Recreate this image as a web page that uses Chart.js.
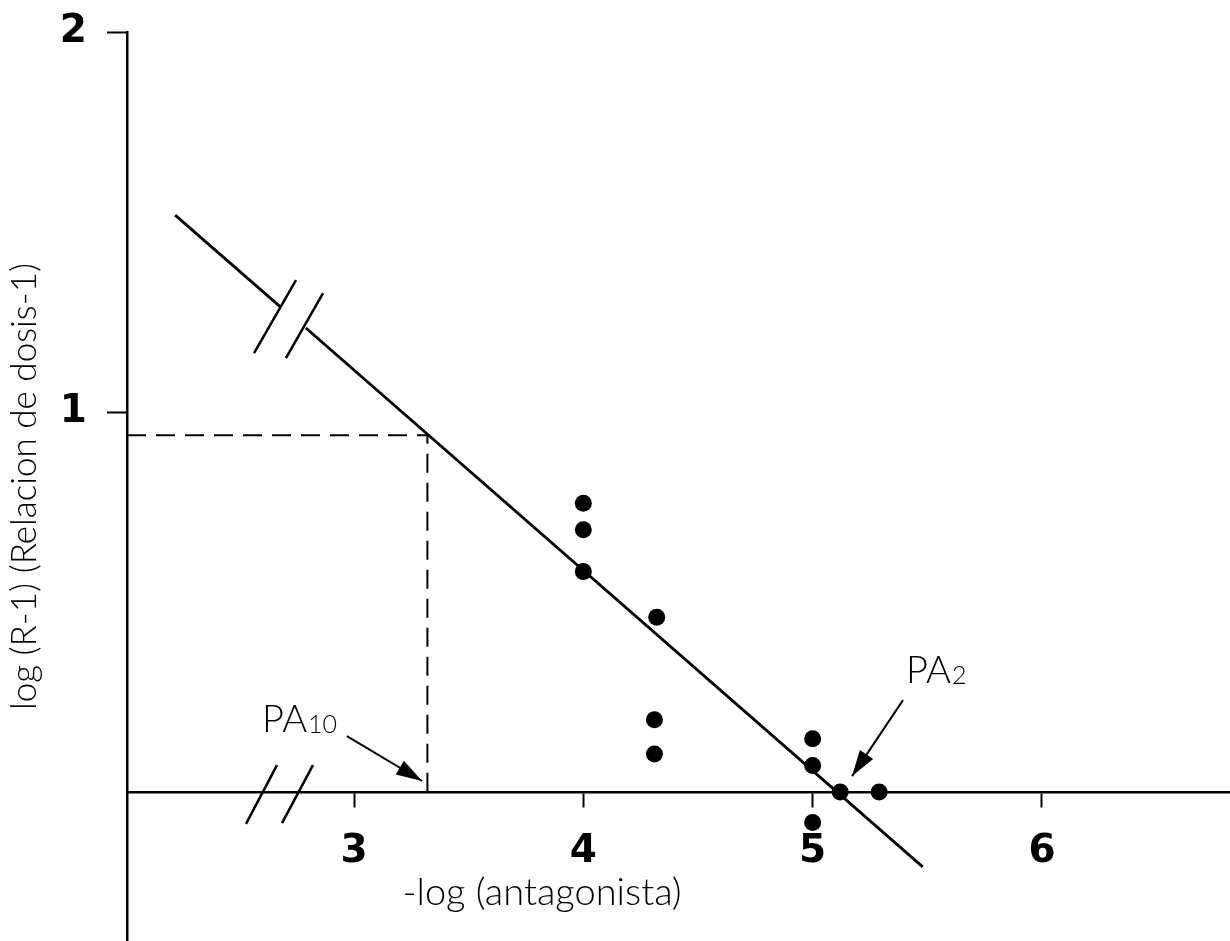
<!DOCTYPE html>
<html>
<head>
<meta charset="utf-8">
<script src="https://cdn.jsdelivr.net/npm/chart.js@4"></script>
<style>
  body { margin: 0; background: #fff; }
  canvas { display: block; }
</style>
</head>
<body>
<canvas id="schild" width="1230" height="941"></canvas>
<script>
// observed points: -log(antagonista) vs log(R-1)
const doseX = [4, 4, 4, 4.32, 4.31, 4.31, 5, 5, 5.12, 5.29, 5];
const responseY = [0.76, 0.69, 0.58, 0.46, 0.19, 0.10, 0.14, 0.07, 0.0, 0.0, -0.08];

// fitted line, broken near the top
const fitX = [2.22, 2.68, null, 2.79, 5.48];
const fitY = [1.518, 1.276, null, 1.221, -0.197];

// break marks (//) on the line and on the x axis
const lineBreakX = [2.564, 2.747, null, 2.703, 2.865];
const lineBreakY = [1.155, 1.347, null, 1.142, 1.313];
const axisBreakX = [2.529, 2.664, null, 2.686, 2.821];
const axisBreakY = [-0.084, 0.071, null, -0.082, 0.071];

// pA10 guide (dashed)
const pa10GuideX = [2.01, 3.32, 3.32];
const pa10GuideY = [0.939, 0.939, 0];

// annotation arrows: [start, tip]
const arrowPA10X = [2.969, 3.297];
const arrowPA10Y = [0.147, 0.029];
const arrowPA2X = [5.394, 5.172];
const arrowPA2Y = [0.242, 0.042];

const xTicks = [3, 4, 5, 6];
const yTicks = [1, 2];

const xTitle = '-log (antagonista)';
const yTitle = 'log (R-1) (Relacion de dosis-1)';

function pts(xs, ys) {
  return xs.map((x, i) => (x === null ? { x: null, y: null } : { x: x, y: ys[i] }));
}

function lineSet(xs, ys, extra) {
  return Object.assign({
    data: pts(xs, ys),
    showLine: true,
    spanGaps: false,
    borderColor: '#000',
    borderWidth: 2.5,
    pointRadius: 0,
    order: 2
  }, extra || {});
}

const lightFont = 'Lato';
const tickFont = { family: 'DejaVu Sans', size: 39, weight: 'bold' };

// arrowheads and labels
const notes = {
  id: 'notes',
  afterDatasetsDraw(chart) {
    const { ctx, scales: { x, y } } = chart;
    ctx.save();
    ctx.fillStyle = '#000';

    function head(xs, ys) {
      const x0 = x.getPixelForValue(xs[0]), y0 = y.getPixelForValue(ys[0]);
      const x1 = x.getPixelForValue(xs[1]), y1 = y.getPixelForValue(ys[1]);
      const a = Math.atan2(y1 - y0, x1 - x0);
      const len = 26, half = 8;
      ctx.beginPath();
      ctx.moveTo(x1, y1);
      ctx.lineTo(x1 - len * Math.cos(a) + half * Math.sin(a), y1 - len * Math.sin(a) - half * Math.cos(a));
      ctx.lineTo(x1 - len * Math.cos(a) - half * Math.sin(a), y1 - len * Math.sin(a) + half * Math.cos(a));
      ctx.closePath();
      ctx.fill();
    }
    head(arrowPA10X, arrowPA10Y);
    head(arrowPA2X, arrowPA2Y);

    function label(main, sub, vx, vy) {
      const px = x.getPixelForValue(vx), py = y.getPixelForValue(vy);
      ctx.textAlign = 'left';
      ctx.textBaseline = 'alphabetic';
      ctx.font = '300 38px ' + lightFont;
      ctx.fillText(main, px, py);
      const w = ctx.measureText(main).width;
      ctx.font = '300 25px ' + lightFont;
      ctx.fillText(sub, px + w + 1, py + 1);
    }
    label('PA', '10', 2.599, 0.158);
    label('PA', '2', 5.407, 0.287);

    ctx.font = '300 38px ' + lightFont;
    ctx.textAlign = 'center';
    ctx.textBaseline = 'middle';
    ctx.fillText(xTitle, x.getPixelForValue(3.82), y.getPixelForValue(-0.266));
    ctx.restore();
  }
};

new Chart(document.getElementById('schild'), {
  type: 'scatter',
  data: {
    datasets: [
      {
        data: pts(doseX, responseY),
        backgroundColor: '#000',
        borderColor: '#000',
        pointRadius: 8.5,
        pointBorderWidth: 0,
        order: 0
      },
      lineSet(fitX, fitY, { borderWidth: 2.8 }),
      lineSet(lineBreakX, lineBreakY),
      lineSet(axisBreakX, axisBreakY),
      lineSet(pa10GuideX, pa10GuideY, { borderDash: [19, 10], borderWidth: 2 }),
      lineSet(arrowPA10X, arrowPA10Y, { borderWidth: 2 }),
      lineSet(arrowPA2X, arrowPA2Y, { borderWidth: 2 })
    ]
  },
  options: {
    responsive: false,
    animation: false,
    layout: { autoPadding: false, padding: { top: 32, left: 0, right: 0, bottom: 0 } },
    plugins: { legend: { display: false }, tooltip: { enabled: false } },
    scales: {
      x: {
        type: 'linear',
        position: { y: 0 },
        min: 2.01,
        max: 6.82,
        afterBuildTicks: s => { s.ticks = xTicks.map(v => ({ value: v })); },
        afterFit: s => { s.paddingLeft = 0; s.paddingRight = 0; },
        ticks: { color: '#000', padding: 22, font: tickFont },
        grid: { drawOnChartArea: false, drawTicks: true, tickLength: 14, tickColor: '#000', tickWidth: 2 },
        border: { display: true, color: '#000', width: 2.5 }
      },
      y: {
        type: 'linear',
        position: 'left',
        min: -0.392,
        max: 2,
        afterBuildTicks: s => { s.ticks = yTicks.map(v => ({ value: v })); },
        afterFit: s => { s.width = 127; s.paddingTop = 0; s.paddingBottom = 0; },
        ticks: { color: '#000', padding: 20, font: tickFont },
        grid: { drawOnChartArea: false, drawTicks: true, tickLength: 20, tickColor: '#000', tickWidth: 2 },
        border: { display: true, color: '#000', width: 2.5 },
        title: {
          display: true,
          text: yTitle,
          color: '#000',
          padding: 4,
          font: { family: lightFont, size: 35, weight: '300' }
        }
      }
    }
  },
  plugins: [notes]
});
</script>
</body>
</html>
